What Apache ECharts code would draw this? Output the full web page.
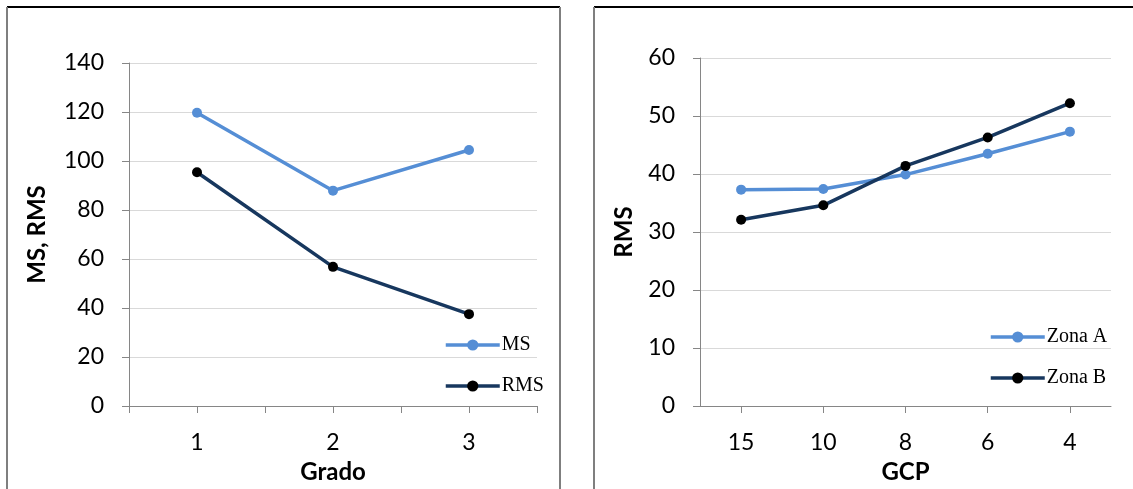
<!DOCTYPE html>
<html>
<head>
<meta charset="utf-8">
<script src="https://cdn.jsdelivr.net/npm/echarts@6/dist/echarts.min.js"></script>
<style>html,body{margin:0;padding:0;background:#fff}#c{width:1133px;height:489px}</style>
</head>
<body>
<div id="c"></div>
<script>
// Left chart data
const gradoCategories = [1, 2, 3];
const msValues = [119.7, 87.9, 104.5];
const rmsValues = [95.4, 56.8, 37.5];
// Right chart data
const gcpCategories = ['15', '10', '8', '6', '4'];
const zonaAValues = [37.3, 37.4, 39.9, 43.5, 47.3];
const zonaBValues = [32.1, 34.6, 41.4, 46.3, 52.2];
const leftYTicks = {min: 0, max: 140, interval: 20};
const rightYTicks = {min: 0, max: 60, interval: 10};

const LIGHT = '#558ED5', DARK = '#17375E';
const axisGrey = '#868686', gridGrey = '#d9d9d9';
const sans = 'Lato';
const chart = echarts.init(document.getElementById('c'), null, {renderer: 'canvas'});

const nameStyle = {fontFamily: sans, fontWeight: 'bold', fontSize: 24, color: '#000'};
const labelStyle = {fontFamily: sans, fontSize: 23, color: '#000'};

const yAxisBase = (gi, t, name) => ({
  type: 'value', gridIndex: gi, min: t.min, max: t.max, interval: t.interval,
  name: name, nameLocation: 'middle', nameGap: 80,
  nameTextStyle: nameStyle,
  axisLine: {show: true, lineStyle: {color: axisGrey, width: 1}},
  axisTick: {show: true, length: 7, lineStyle: {color: axisGrey}},
  axisLabel: Object.assign({margin: 25}, labelStyle),
  splitLine: {show: true, lineStyle: {color: gridGrey, width: 1}}
});

const legendBase = {
  orient: 'vertical', itemWidth: 54, itemHeight: 14, itemGap: 21,
  lineStyle: {width: 3.5},
  textStyle: {fontFamily: 'Liberation Serif', fontSize: 20, color: '#000', padding: [0, 0, 0, -3]}
};

const option = {
  animation: false,
  backgroundColor: '#fff',
  grid: [
    {left: 129, top: 63, width: 408, height: 345},
    {left: 700, top: 58, width: 411, height: 349}
  ],
  xAxis: [
    {
      type: 'value', gridIndex: 0, min: 0.5, max: 3.5, interval: 0.5,
      name: 'Grado', nameLocation: 'middle', nameGap: 54,
      nameTextStyle: nameStyle,
      axisLine: {show: true, onZero: false, lineStyle: {color: axisGrey}},
      axisTick: {show: true, length: 7, lineStyle: {color: axisGrey}},
      splitLine: {show: false},
      axisLabel: Object.assign({margin: 25,
        formatter: v => (Number.isInteger(v) && gradoCategories.includes(v)) ? String(v) : ''}, labelStyle)
    },
    {
      type: 'category', gridIndex: 1, data: gcpCategories, boundaryGap: true,
      name: 'GCP', nameLocation: 'middle', nameGap: 54,
      nameTextStyle: nameStyle,
      axisLine: {show: true, lineStyle: {color: axisGrey}},
      axisTick: {show: true, length: 7, alignWithLabel: true, lineStyle: {color: axisGrey}},
      axisLabel: Object.assign({margin: 25}, labelStyle)
    }
  ],
  yAxis: [
    yAxisBase(0, leftYTicks, 'MS, RMS'),
    Object.assign(yAxisBase(1, rightYTicks, 'RMS'), {nameGap: 64})
  ],
  legend: [
    Object.assign({data: ['MS', 'RMS'], left: 439, top: 330}, legendBase),
    Object.assign({data: ['Zona A', 'Zona B'], left: 984, top: 322}, legendBase)
  ],
  series: [
    {name: 'MS', type: 'line', xAxisIndex: 0, yAxisIndex: 0,
      data: gradoCategories.map((c, i) => [c, msValues[i]]),
      symbol: 'circle', symbolSize: 10,
      lineStyle: {color: LIGHT, width: 3.5}, itemStyle: {color: LIGHT}},
    {name: 'RMS', type: 'line', xAxisIndex: 0, yAxisIndex: 0,
      data: gradoCategories.map((c, i) => [c, rmsValues[i]]),
      symbol: 'circle', symbolSize: 10,
      lineStyle: {color: DARK, width: 3.5}, itemStyle: {color: '#000'}},
    {name: 'Zona A', type: 'line', xAxisIndex: 1, yAxisIndex: 1,
      data: zonaAValues, symbol: 'circle', symbolSize: 10,
      lineStyle: {color: LIGHT, width: 3.5}, itemStyle: {color: LIGHT}},
    {name: 'Zona B', type: 'line', xAxisIndex: 1, yAxisIndex: 1,
      data: zonaBValues, symbol: 'circle', symbolSize: 10,
      lineStyle: {color: DARK, width: 3.5}, itemStyle: {color: '#000'}}
  ],
  graphic: [
    {type: 'line', shape: {x1: 7, y1: 7, x2: 560, y2: 7}, style: {stroke: '#000', lineWidth: 2}},
    {type: 'line', shape: {x1: 7, y1: 7, x2: 7, y2: 489}, style: {stroke: '#7f7f7f', lineWidth: 2}},
    {type: 'line', shape: {x1: 560, y1: 7, x2: 560, y2: 489}, style: {stroke: '#7f7f7f', lineWidth: 2}},
    {type: 'line', shape: {x1: 594, y1: 7, x2: 1133, y2: 7}, style: {stroke: '#000', lineWidth: 2}},
    {type: 'line', shape: {x1: 594, y1: 7, x2: 594, y2: 489}, style: {stroke: '#7f7f7f', lineWidth: 2}}
  ]
};
chart.setOption(option);
</script>
</body>
</html>
